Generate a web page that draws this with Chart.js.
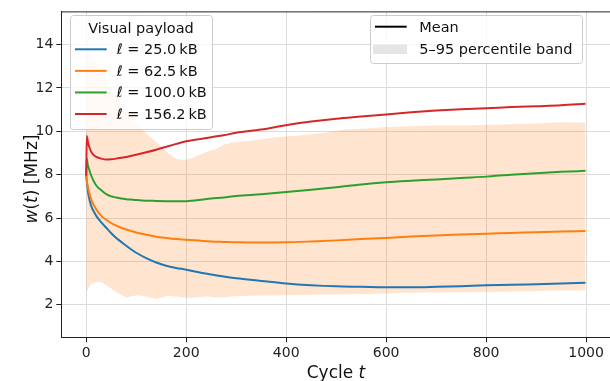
<!DOCTYPE html>
<html>
<head>
<meta charset="utf-8">
<script src="https://cdn.jsdelivr.net/npm/chart.js@4.4.1/dist/chart.umd.min.js"></script>
<style>
html,body{margin:0;padding:0;overflow:hidden;background:#fff;}
canvas{display:block;}
</style>
</head>
<body>
<canvas id="c" width="614" height="381" style="width:614px;height:381px"></canvas>
<script>
// ---- data ----
const meanT = [0,1,3,5,10,15,20,30,40,50,60,70,80,90,100,120,140,160,180,200,225,250,275,300,350,400,450,500,550,600,650,700,750,800,850,900,950,999];
const blue25 = [7.95,7.7,7.3,7.0,6.55,6.3,6.1,5.8,5.55,5.3,5.08,4.9,4.72,4.55,4.4,4.15,3.95,3.8,3.7,3.62,3.5,3.4,3.3,3.22,3.1,2.98,2.9,2.85,2.83,2.81,2.81,2.83,2.86,2.9,2.92,2.95,2.98,3.02];
const orange62 = [7.95,7.75,7.45,7.25,6.85,6.6,6.4,6.1,5.92,5.77,5.65,5.55,5.47,5.4,5.33,5.23,5.14,5.08,5.03,5.0,4.96,4.92,4.9,4.88,4.87,4.88,4.92,4.97,5.03,5.08,5.15,5.2,5.24,5.28,5.31,5.35,5.38,5.4];
const green100 = [7.95,8.75,8.45,8.3,7.95,7.7,7.5,7.28,7.1,7.0,6.95,6.9,6.87,6.85,6.83,6.8,6.79,6.78,6.77,6.78,6.83,6.9,6.95,7.02,7.1,7.2,7.3,7.42,7.55,7.65,7.72,7.78,7.85,7.91,8.0,8.07,8.13,8.18];
const red156 = [7.95,9.78,9.55,9.35,9.05,8.9,8.82,8.74,8.7,8.71,8.74,8.78,8.82,8.87,8.92,9.03,9.15,9.29,9.42,9.54,9.63,9.73,9.82,9.93,10.08,10.28,10.45,10.58,10.68,10.78,10.88,10.96,11.02,11.06,11.12,11.16,11.2,11.27];

const bandT = [0,3,8,15,21,28,34,40,47,54,61,70,81,92,104,121,141,152,164,181,195,208,225,241,260,275,290,308,330,348,368,388,420,468,520,560,601,634,700,750,801,850,901,950,999];
const bandLow = [2.6,2.7,2.92,3.02,3.05,3.05,2.99,2.9,2.8,2.68,2.57,2.45,2.34,2.4,2.44,2.37,2.27,2.35,2.42,2.37,2.33,2.31,2.35,2.38,2.34,2.33,2.38,2.41,2.42,2.43,2.44,2.44,2.45,2.47,2.49,2.5,2.52,2.56,2.57,2.58,2.59,2.61,2.64,2.66,2.67];
const bandHigh = [14.3,14.0,13.6,13.3,13.15,12.9,12.65,12.4,12.12,11.85,11.6,11.3,10.9,10.5,10.22,9.88,9.48,9.25,8.98,8.72,8.68,8.74,8.9,9.05,9.2,9.38,9.47,9.52,9.57,9.63,9.69,9.75,9.8,9.91,10.08,10.13,10.2,10.22,10.28,10.27,10.3,10.33,10.36,10.42,10.4];

const xTicks = [0,200,400,600,800,1000];
const yTicks = [2,4,6,8,10,12,14];
const seriesLabels = ['25.0','62.5','100.0','156.2'];
const seriesColors = ['#1f77b4','#ff7f0e','#2ca02c','#d62728'];

// ---- build ----
const pts = (xs, ys) => xs.map((x,i)=>({x:x,y:ys[i]}));
const FONT = "'DejaVu Sans', sans-serif";
const lineDs = (ys, col, ord) => ({data: pts(meanT, ys), borderColor: col, borderWidth: 2, pointRadius: 0, fill: false, cubicInterpolationMode: 'monotone', order: ord});

const decor = {
  id: 'decor',
  afterDraw(chart) {
    const ctx = chart.ctx, a = chart.chartArea;
    ctx.save();
    // top spine
    ctx.strokeStyle = '#222'; ctx.lineWidth = 1;
    ctx.beginPath(); ctx.moveTo(a.left, a.top + 0.5); ctx.lineTo(a.right, a.top + 0.5); ctx.stroke();

    function mixed(parts, x, y) {
      let cx = x;
      parts.forEach(p => { ctx.font = p[1]; ctx.fillText(p[0], cx, y); cx += ctx.measureText(p[0]).width; });
    }
    function mixedWidth(parts) {
      let w = 0; parts.forEach(p => { ctx.font = p[1]; w += ctx.measureText(p[0]).width; }); return w;
    }
    function box(x, y, w, h) {
      ctx.beginPath(); ctx.roundRect(x + 0.5, y + 0.5, w, h, 3);
      ctx.fillStyle = 'rgba(255,255,255,0.8)'; ctx.fill();
      ctx.strokeStyle = '#cccccc'; ctx.lineWidth = 1; ctx.stroke();
    }
    const LF = '14.5px ' + FONT, LFI = 'italic 14.5px ' + FONT;
    ctx.textBaseline = 'alphabetic';
    ctx.fillStyle = '#111';

    // legend 1
    box(70, 15, 142, 114);
    ctx.fillStyle = '#111'; ctx.font = LF; ctx.textAlign = 'center';
    ctx.fillText('Visual payload', 141, 32.5);
    ctx.textAlign = 'left';
    seriesLabels.forEach((lab, i) => {
      const y = 49.3 + i * 21.57;
      ctx.strokeStyle = seriesColors[i]; ctx.lineWidth = 2;
      ctx.beginPath(); ctx.moveTo(75, y); ctx.lineTo(106.7, y); ctx.stroke();
      ctx.fillStyle = '#111';
      mixed([['\u2113', LFI], [' = ' + lab + '\u2009kB', LF]], 116.7, y + 5);
    });

    // legend 2
    box(370, 15, 212, 48);
    ctx.strokeStyle = '#000'; ctx.lineWidth = 2;
    ctx.beginPath(); ctx.moveTo(375, 26.7); ctx.lineTo(406.7, 26.7); ctx.stroke();
    ctx.fillStyle = '#e5e5e5'; ctx.fillRect(373, 44.5, 34, 9.5);
    ctx.fillStyle = '#111'; ctx.font = LF;
    ctx.fillText('Mean', 419.3, 31.7);
    ctx.fillText('5\u201395 percentile band', 419.3, 54.3);

    // axis titles
    const TF = '17px ' + FONT, TFI = 'italic 17px ' + FONT;
    const xp = [['Cycle ', TF], ['t', TFI]];
    mixed(xp, 336 - mixedWidth(xp) / 2, 378);
    const yp = [['w', TFI], ['(', TF], ['t', TFI], [') [MHz]', TF]];
    ctx.translate(37, 179); ctx.rotate(-Math.PI / 2);
    mixed(yp, -mixedWidth(yp) / 2, 0);
    ctx.restore();
  }
};

new Chart(document.getElementById('c'), {
  type: 'line',
  data: {
    datasets: [
      {data: pts(bandT, bandLow), borderWidth: 0, pointRadius: 0, fill: false, borderColor: 'rgba(0,0,0,0)', order: 10},
      {data: pts(bandT, bandHigh), borderWidth: 0, pointRadius: 0, fill: '-1', borderColor: 'rgba(0,0,0,0)', backgroundColor: 'rgba(255,127,14,0.2)', order: 9},
      lineDs(blue25, seriesColors[0], 4),
      lineDs(orange62, seriesColors[1], 3),
      lineDs(green100, seriesColors[2], 2),
      lineDs(red156, seriesColors[3], 1)
    ]
  },
  options: {
    responsive: false,
    animation: false,
    events: [],
    layout: {padding: {left: 0, right: 3.5, top: 10, bottom: 0}},
    plugins: {legend: {display: false}, tooltip: {enabled: false}},
    scales: {
      x: {
        type: 'linear', min: -49.95, max: 1048.95,
        afterBuildTicks: s => { s.ticks = xTicks.map(v => ({value: v})); },
        afterFit: s => { s.height = 43.7; },
        grid: {color: '#dcdcdc', lineWidth: 1, tickColor: '#222', tickLength: 5},
        border: {color: '#222', width: 1},
        ticks: {font: {family: FONT, size: 14}, color: '#222', padding: 3, maxRotation: 0, callback: v => String(v)}
      },
      y: {
        type: 'linear', min: 0.5, max: 15.53,
        afterBuildTicks: s => { s.ticks = yTicks.map(v => ({value: v})); },
        afterFit: s => { s.width = 61.3; },
        grid: {color: '#dcdcdc', lineWidth: 1, tickColor: '#222', tickLength: 5},
        border: {color: '#222', width: 1},
        ticks: {font: {family: FONT, size: 14}, color: '#222', padding: 3, callback: v => String(v)}
      }
    }
  },
  plugins: [decor]
});
</script>
</body>
</html>
